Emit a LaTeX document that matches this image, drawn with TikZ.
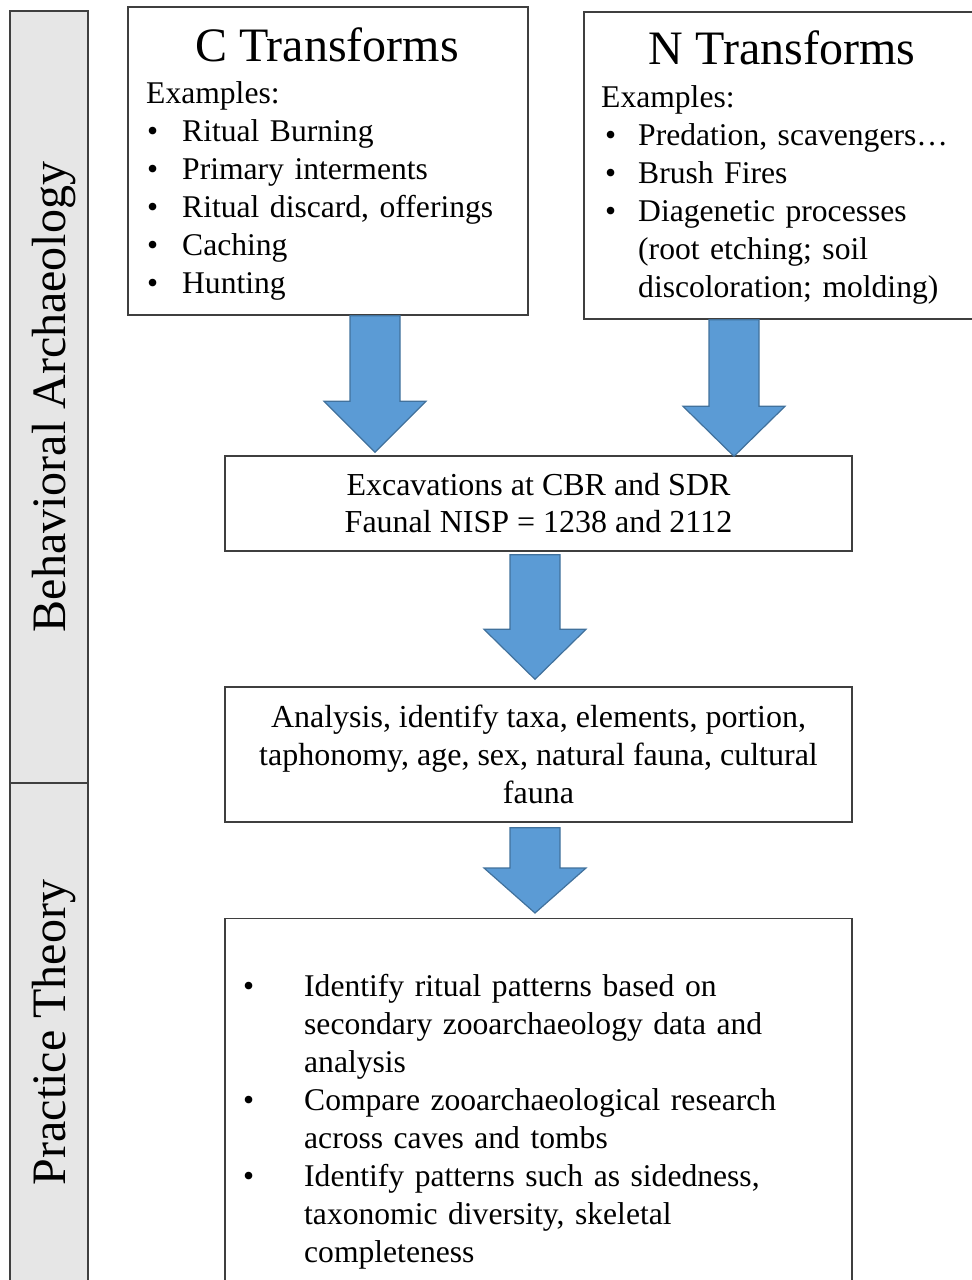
\documentclass[tikz,border=0pt]{standalone}
\usepackage{fontspec}
\setmainfont{Liberation Serif}
\usetikzlibrary{calc}
\definecolor{flowBlue}{HTML}{5B9BD5}
\definecolor{flowEdge}{HTML}{41719C}
\definecolor{flowLine}{HTML}{3F3F3F}
\definecolor{flowPanel}{HTML}{E6E6E6}
% bullet line: bullet indent, text indent, text
\newcommand{\bitem}[3]{\par\hangindent=#2\hangafter=1\noindent\hspace*{#1}\makebox[\dimexpr#2-#1\relax][l]{\textbullet}#3}
% block arrow: top, tip, head length
\newcommand{\blockarrow}[3]{%
  \coordinate (ba-top) at (#1);
  \coordinate (ba-tip) at (#2);
  \filldraw[blockarrow] ($(ba-top)+(-25,0)$) -- ($(ba-top)+(25,0)$) -- ($(ba-tip)+(25,-#3)$)
    -- ($(ba-tip)+(51,-#3)$) -- (ba-tip) -- ($(ba-tip)+(-51,-#3)$) -- ($(ba-tip)+(-25,-#3)$) -- cycle;}
\begin{document}
\begin{tikzpicture}[x=1pt,y=-1pt,
    every node/.style={font=\fontsize{32}{38}\selectfont, inner sep=0pt},
    box/.style={draw=flowLine, line width=1.4pt, fill=white},
    panel/.style={draw=flowLine, line width=1.4pt, fill=flowPanel, minimum width=78},
    paneltext/.style={rotate=90, font=\fontsize{48}{56}\selectfont},
    heading/.style={anchor=base, font=\fontsize{48}{56}\selectfont},
    list/.style={anchor=north west, align=left, font=\fontsize{31.6}{38}\selectfont},
    blockarrow/.style={fill=flowBlue, draw=flowEdge, line width=1.2pt, line join=miter}]
  \useasboundingbox (0,0) rectangle (972,1280);
  % side panels
  \node[panel, minimum height=772] (behav) at (49,397) {};
  \node[paneltext] (behavtext) at (54.5,397) {Behavioral Archaeology};
  \node[panel, minimum height=499] (practice) at (49,1032.5) {};
  \node[paneltext] (practicetext) at (54.5,1032.5) {Practice Theory};
  % transforms
  \node[box, minimum width=400, minimum height=308] (cbox) at (328,161) {};
  \node[heading] (ctitle) at (327,61) {C Transforms};
  \node[list, text width=370] (clist) at (146,77) {\noindent\strut Examples:
    \bitem{1pt}{36pt}{Ritual Burning}
    \bitem{1pt}{36pt}{Primary interments}
    \bitem{1pt}{36pt}{Ritual discard, offerings}
    \bitem{1pt}{36pt}{Caching}
    \bitem{1pt}{36pt}{Hunting}\par};
  \node[box, minimum width=396, minimum height=307] (nbox) at (782,165.5) {};
  \node[heading] (ntitle) at (782,64) {N Transforms};
  \node[list, text width=370] (nlist) at (601,80.5) {\noindent\strut Examples:
    \bitem{4pt}{37pt}{Predation, scavengers…}
    \bitem{4pt}{37pt}{Brush Fires}
    \bitem{4pt}{37pt}{Diagenetic processes\newline(root etching; soil\newline discoloration; molding)}\par};
  % data and analysis
  \node[box, minimum width=627, minimum height=95, align=center, font=\fontsize{32}{37}\selectfont] (excav) at (538.5,503.5)
    {Excavations at CBR and SDR\\Faunal NISP = 1238 and 2112};
  \node[box, minimum width=627, minimum height=135, align=center] (analysis) at (538.5,754.5)
    {Analysis, identify taxa, elements, portion,\\taphonomy, age, sex, natural fauna, cultural\\fauna};
  \node[box, minimum width=627, minimum height=400, anchor=north] (ritual) at (538.5,918) {};
  \node[list, text width=580] (rlist) at (243,958.4) {%
    \bitem{0pt}{61pt}{\strut Identify ritual patterns based on\newline secondary zooarchaeology data and\newline analysis}
    \bitem{0pt}{61pt}{Compare zooarchaeological research\newline across caves and tombs}
    \bitem{0pt}{61pt}{Identify patterns such as sidedness,\newline taxonomic diversity, skeletal\newline completeness}\par};
  % arrows
  \blockarrow{$(cbox.south)+(47,0)$}{$(excav.north)+(-163.5,-3)$}{51}
  \blockarrow{$(nbox.south)+(-48,0)$}{$(excav.north)+(195.5,1)$}{50}
  \blockarrow{$(excav.south)+(-3.5,3)$}{$(analysis.north)+(-3.5,-7)$}{50}
  \blockarrow{$(analysis.south)+(-3.5,5)$}{$(ritual.north)+(-3.5,-5)$}{45}
\end{tikzpicture}
\end{document}
